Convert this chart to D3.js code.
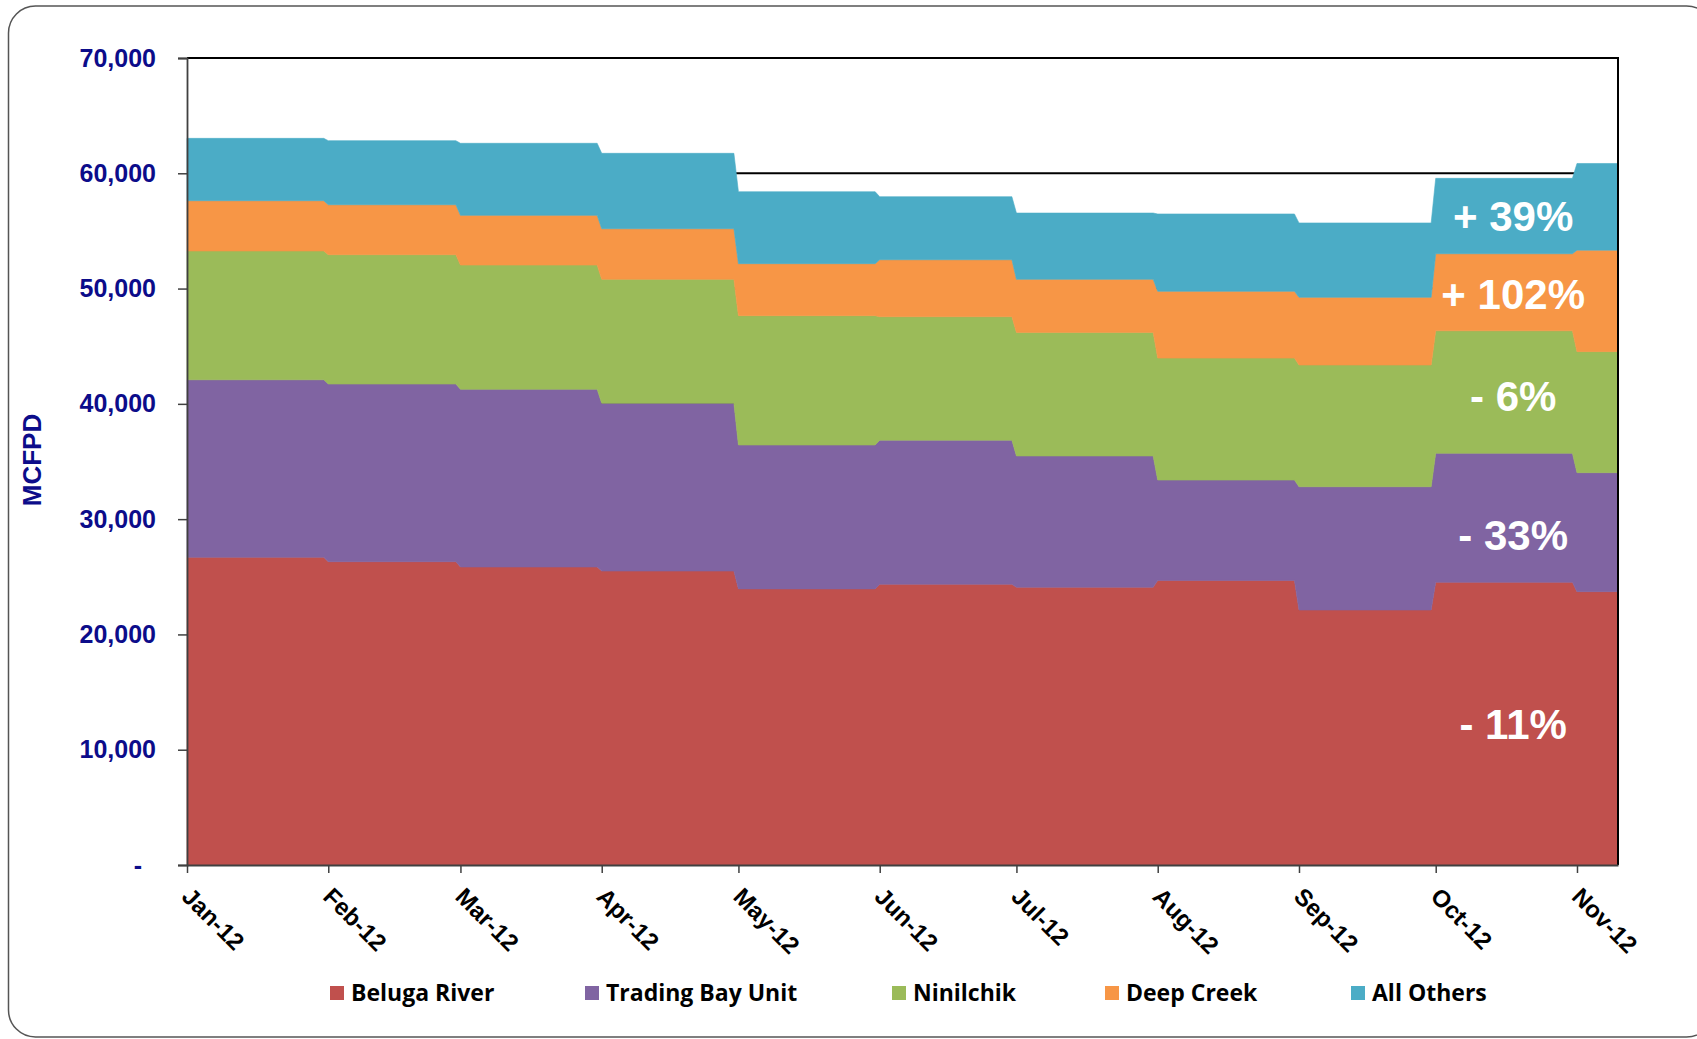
<!DOCTYPE html>
<html>
<head>
<meta charset="utf-8">
<script src="https://cdn.jsdelivr.net/npm/d3@7"></script>
<style>
  html, body { margin: 0; padding: 0; background: #fff; }
  svg { display: block; }
</style>
</head>
<body>
<svg id="chart" width="1697" height="1039"></svg>
<script>
// Cook Inlet gas production by field, monthly average (MCFPD), 2012
const monthStarts = ["2012-01-01","2012-02-01","2012-03-01","2012-04-01","2012-05-01","2012-06-01",
                     "2012-07-01","2012-08-01","2012-09-01","2012-10-01","2012-11-01"];
const monthLabels = ["Jan-12","Feb-12","Mar-12","Apr-12","May-12","Jun-12",
                     "Jul-12","Aug-12","Sep-12","Oct-12","Nov-12"];
const dataEnd = "2012-11-10";

const belugaRiver    = [26690, 26310, 25850, 25500, 23950, 24350, 24090, 24680, 22120, 24520, 23710];
const tradingBayUnit = [15400, 15410, 15410, 14550, 12480, 12500, 11390,  8710, 10690, 11190, 10320];
const ninilchik      = [11170, 11220, 10780, 10750, 11220, 10710, 10720, 10580, 10560, 10630, 10500];
const deepCreek      = [ 4360,  4330,  4310,  4390,  4510,  4940,  4600,  5790,  5870,  6680,  8800];
const allOthers      = [ 5410,  5560,  6250,  6540,  6240,  5470,  5750,  6710,  6450,  6540,  7520];

const seriesNames  = ["Beluga River", "Trading Bay Unit", "Ninilchik", "Deep Creek", "All Others"];
const seriesColors = ["#C0504D", "#8064A2", "#9BBB59", "#F79646", "#4BACC6"];
const seriesValues = [belugaRiver, tradingBayUnit, ninilchik, deepCreek, allOthers];

const yTicks = [0, 10000, 20000, 30000, 40000, 50000, 60000, 70000];
const yTitle = "MCFPD";

// ---- layout ----
const plot = { left: 187, top: 58, right: 1618, bottom: 865 };
const navy = "#0c0c8a";
const axisFont = "'Liberation Sans', Arial, sans-serif";

const svg = d3.select("#chart");

// outer rounded frame
svg.append("rect")
  .attr("x", 8.5).attr("y", 6)
  .attr("width", 1705).attr("height", 1031)
  .attr("rx", 27).attr("ry", 27)
  .attr("fill", "#fff")
  .attr("stroke", "#555").attr("stroke-width", 1.5);

// daily-resolution rows: every month holds its value from the 1st to its last day
const parse = d3.utcParse("%Y-%m-%d");
const starts = monthStarts.map(parse);
const endDate = parse(dataEnd);
const rows = [];
starts.forEach((s, i) => {
  const e = i < starts.length - 1 ? d3.utcDay.offset(starts[i + 1], -1) : endDate;
  [s, e].forEach(date => {
    const r = { date };
    seriesNames.forEach((n, k) => r[n] = seriesValues[k][i]);
    rows.push(r);
  });
});

const x = d3.scaleUtc().domain([starts[0], endDate]).range([plot.left, plot.right]);
const y = d3.scaleLinear().domain([0, 70000]).range([plot.bottom, plot.top]);

// horizontal gridlines (behind the areas)
svg.append("g")
  .selectAll("line")
  .data(yTicks.filter(v => v > 0))
  .join("line")
  .attr("x1", plot.left).attr("x2", plot.right)
  .attr("y1", d => y(d)).attr("y2", d => y(d))
  .attr("stroke", "#000").attr("stroke-width", 2);

const stacked = d3.stack().keys(seriesNames)(rows);

const area = d3.area()
  .x(d => x(d.data.date))
  .y0(d => y(d[0]))
  .y1(d => y(d[1]))
  .curve(d3.curveLinear);

svg.append("g")
  .selectAll("path")
  .data(stacked)
  .join("path")
  .attr("d", area)
  .attr("fill", (d, i) => seriesColors[i])
  .attr("stroke", (d, i) => seriesColors[i])
  .attr("stroke-width", 0.6);

// right border of plot area
svg.append("line")
  .attr("x1", plot.right).attr("x2", plot.right)
  .attr("y1", plot.top - 1).attr("y2", plot.bottom)
  .attr("stroke", "#000").attr("stroke-width", 2);

// y axis
const fmt = d3.format(",");
const yAxis = d3.axisLeft(y)
  .tickValues(yTicks)
  .tickSize(9)
  .tickPadding(22)
  .tickFormat(d => d === 0 ? "-\u00A0\u00A0" : fmt(d));

const gy = svg.append("g")
  .attr("transform", `translate(${plot.left},0)`)
  .call(yAxis);
gy.select(".domain").attr("stroke", "#404040").attr("stroke-width", 1.8);
gy.selectAll(".tick line").attr("stroke", "#404040").attr("stroke-width", 1.5);
gy.selectAll(".tick text")
  .attr("fill", navy)
  .style("font-family", axisFont)
  .style("font-weight", "bold")
  .style("font-size", "25px");

// x axis
const xAxis = d3.axisBottom(x)
  .tickValues(starts)
  .tickSize(8)
  .tickSizeOuter(0)
  .tickFormat((d, i) => monthLabels[i]);

const gx = svg.append("g")
  .attr("transform", `translate(0,${plot.bottom})`)
  .call(xAxis);
gx.select(".domain").attr("stroke", "#404040").attr("stroke-width", 1.8);
gx.selectAll(".tick line").attr("stroke", "#404040").attr("stroke-width", 1.5);
gx.selectAll(".tick text")
  .attr("x", 0).attr("y", 0).attr("dy", 0)
  .attr("text-anchor", "start")
  .attr("transform", "translate(-7,33) rotate(45)")
  .attr("fill", "#000")
  .style("font-family", axisFont)
  .style("font-weight", "bold")
  .style("font-size", "24px");

// y axis title
svg.append("text")
  .attr("transform", "translate(41,460) rotate(-90)")
  .attr("text-anchor", "middle")
  .attr("fill", navy)
  .style("font-family", axisFont)
  .style("font-weight", "bold")
  .style("font-size", "26px")
  .text(yTitle);

// change labels: first month vs latest month, placed in the October band
const labelDate = parse("2012-10-18");
const labelNudge = [0, 17, 4, 2, 0];
const octIdx = monthLabels.indexOf("Oct-12");
stacked.forEach((s, k) => {
  const vals = seriesValues[k];
  const pct = Math.round((vals[vals.length - 1] / vals[0] - 1) * 100);
  const txt = (pct >= 0 ? "+ " : "- ") + Math.abs(pct) + "%";
  const band = s[octIdx * 2];
  const cy = y((band[0] + band[1]) / 2) + labelNudge[k];
  svg.append("text")
    .attr("x", x(labelDate))
    .attr("y", cy)
    .attr("dy", "0.36em")
    .attr("text-anchor", "middle")
    .attr("fill", "#fff")
    .style("font-family", axisFont)
    .style("font-weight", "bold")
    .style("font-size", "42px")
    .text(txt);
});

// legend
const legendX = [330, 585, 892, 1105, 1351];
const legend = svg.append("g");
seriesNames.forEach((n, i) => {
  const g = legend.append("g").attr("transform", `translate(${legendX[i]},986)`);
  g.append("rect").attr("width", 14).attr("height", 14).attr("fill", seriesColors[i]);
  g.append("text")
    .attr("x", 21).attr("y", 15)
    .attr("fill", "#000")
    .style("font-family", "'Open Sans', sans-serif")
    .style("font-weight", "bold")
    .style("font-size", "23px")
    .text(n);
});
</script>
</body>
</html>
